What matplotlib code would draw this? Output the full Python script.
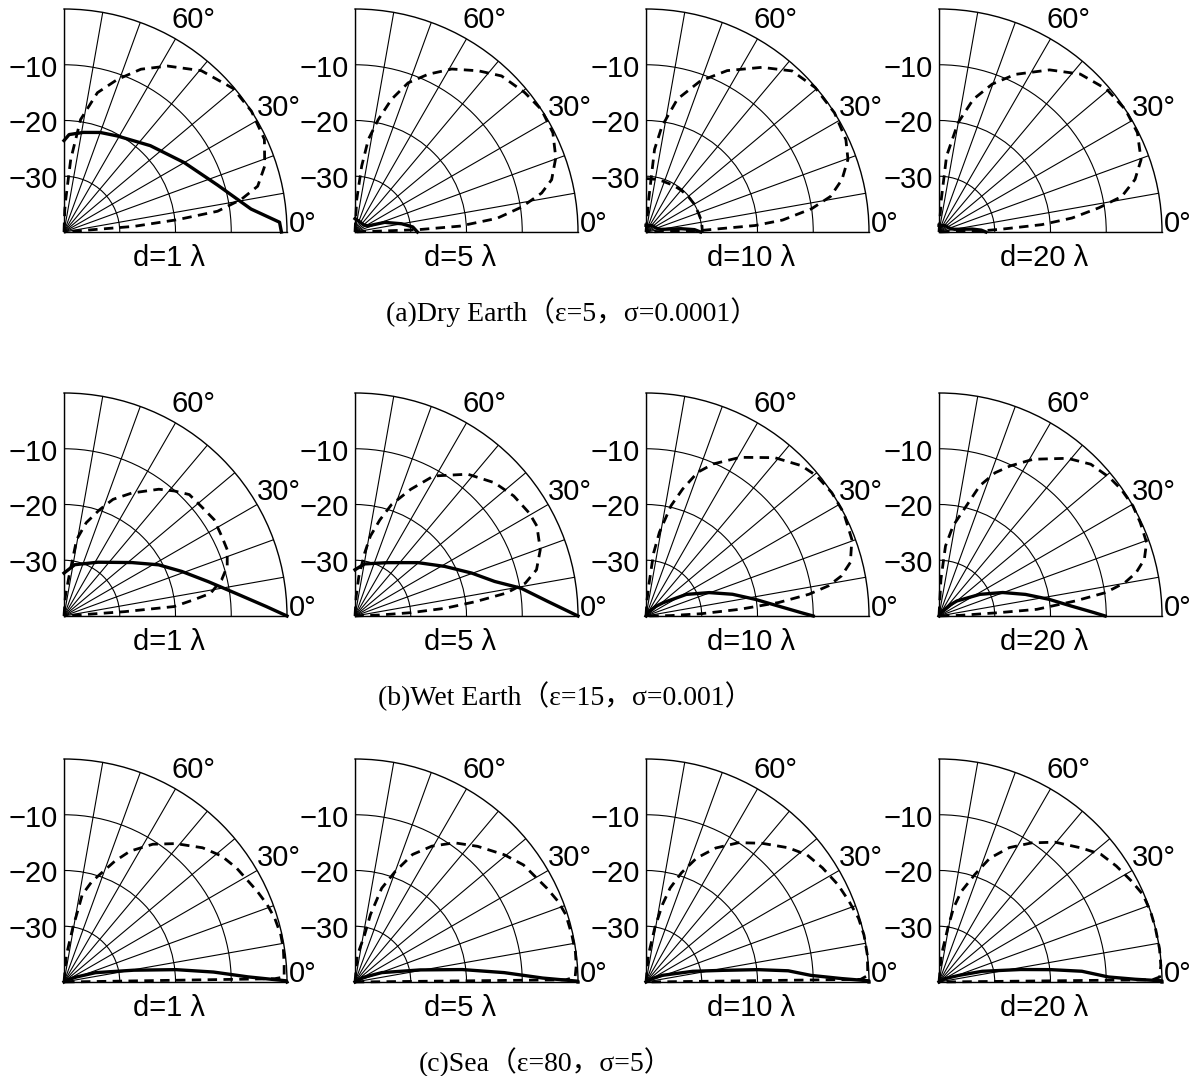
import numpy as np
import matplotlib
matplotlib.use("Agg")
import matplotlib.pyplot as plt
from matplotlib.transforms import offset_copy

# ---- data: angle (deg) / level (dB, -40 .. 0) ----
# (a) Dry Earth
dry1_sol_deg = [90, 87, 79, 70, 61, 45, 30, 17, 7, 2.6, 0]
dry1_sol_db = [-23.6, -22.5, -21.8, -21.0, -20.3, -18.1, -15.1, -11.2, -6.2, -1.3, -1.0]
dry1_dash_deg = [90, 88, 87, 84.7, 81.6, 76.5, 70.7, 64.7, 58, 49.6, 40.3, 32.8, 24.8,
                 18.2, 13.3, 10.4, 7.7, 6.2, 4.6, 4.3, 0]
dry1_dash_db = [-40, -36, -34.2, -26.9, -19.6, -14.3, -11.0, -7.7, -4.9, -2.0, -0.2, 0, -0.4,
                -2.1, -4.3, -7.7, -12.2, -19.5, -27.4, -40, -40]

dry5_sol_deg = [90, 60, 40, 25, 18, 10, 5, 0]
dry5_sol_db = [-37.6, -38, -38, -37.4, -34.4, -31.5, -29.6, -28.8]
dry5_dash_deg = [90, 87, 84.2, 81.8, 78.3, 74.6, 70.4, 65.1, 59.3, 52.6, 46.8, 39.4, 33.3,
                 26.6, 20.3, 14.9, 11.8, 8.5, 5.5, 3.2, 2.1, 1.5, 0]
dry5_dash_db = [-40, -34.2, -28.1, -23.2, -19.4, -15.3, -11.6, -8.8, -6.0, -3.6, -1.6, -0.6, 0,
                -0.3, -1.6, -3.5, -5.8, -9.8, -14.4, -21.2, -28.7, -40, -40]

dry10_sol_deg = [90, 45, 20, 10, 5.4, 2.8, 0]
dry10_sol_db = [-38.8, -38.4, -38.0, -37.3, -33.7, -31.3, -30.2]
dry10_dash_deg = [90, 85.3, 84.1, 81.4, 76.7, 70.2, 63.3, 54.9, 47.8, 40.5, 32.3, 24.8, 19.8,
                  15.0, 10.9, 8.0, 5.0, 3.4, 2.4, 1.7, 1.2, 0]
dry10_dash_db = [-40, -34.2, -25.1, -20.8, -15.5, -11.2, -7.6, -3.9, -1.0, -0.1, 0, -0.5, -1.5,
                 -3.6, -6.3, -10.0, -15.4, -20.4, -27.5, -29.8, -40, -40]
# short dashed arc lying on the -30 dB ring in d=10
dry10_ring_deg = [90, 80, 72, 60, 50, 40, 30, 20, 13, 6, 0]
dry10_ring_db = [-30.4, -30.4, -30.4, -30.3, -30.2, -30.1, -30.0, -30.0, -29.9, -29.9, -29.9]

dry20_sol_deg = [90, 45, 20, 10, 5, 2.5, 0]
dry20_sol_db = [-38.8, -38.4, -38.0, -37.2, -34.0, -32.4, -31.6]
dry20_dash_deg = [90, 86, 84.3, 80.1, 75.5, 70.2, 64.2, 55.7, 48.2, 40.4, 33.3, 26.6, 19.7,
                  15.0, 11.0, 8.6, 6.0, 4.1, 2.7, 1.7, 1.2, 0]
dry20_dash_db = [-40, -34.2, -26.3, -20.1, -15.4, -11.8, -8.6, -4.8, -2.0, -0.5, 0, -0.2, -1.5,
                 -3.6, -6.6, -11.0, -16.0, -21.5, -28.4, -31.8, -40, -40]

# (b) Wet Earth
wet1_sol_deg = [90, 78.2, 57.8, 38.2, 28.4, 20.7, 13.4, 7.6, 2.7, 0]
wet1_sol_db = [-32.3, -30.6, -28.6, -24.5, -20.7, -17.4, -13.4, -9.0, -3.7, 0]
wet1_dash_deg = [90, 86, 82.8, 80.6, 76.6, 71.5, 67.2, 61.1, 53.2, 48.6, 44.1, 38.7, 32.7,
                 26.8, 22.1, 16.9, 12.9, 8.8, 7.1, 4.9, 4.1, 3.8, 0]
wet1_dash_db = [-40, -36.4, -32.9, -26.1, -22.8, -19.9, -17.3, -14.8, -11.6, -10.1, -8.7, -8.5, -8.0,
                -8.3, -8.4, -9.4, -11.0, -13.4, -16.6, -20.2, -29.1, -40, -40]

wet5_sol_deg = [90, 79.5, 58.7, 40.3, 28.9, 20.2, 13.9, 9.5, 4.3, 0]
wet5_sol_db = [-31.7, -30.5, -28.8, -25.2, -21.6, -17.7, -14.2, -9.8, -5.3, 0]
wet5_dash_deg = [90, 86.5, 84.5, 81.3, 79.1, 75.5, 71.9, 66.3, 60.7, 51.5, 43.7, 37.1, 30.6,
                 26.3, 19.7, 14.3, 10.9, 8.6, 6.8, 4.9, 3.4, 2.3, 1.8, 0]
wet5_dash_db = [-40, -36.4, -32.9, -28.6, -25.4, -22.2, -19.0, -15.2, -11.2, -7.5, -5.4, -4.3, -3.7,
                -3.6, -4.7, -6.4, -8.9, -12.6, -18.2, -23.8, -30.0, -35.6, -40, -40]

wet10_sol_deg = [90, 60, 45, 37.7, 28.2, 20.3, 14.1, 8.7, 4.3, 1.2, 0]
wet10_sol_db = [-40, -39.2, -37.6, -36.1, -31.8, -27.9, -24.0, -20.2, -16.2, -12.1, -10.0]
wet10_dash_deg = [90, 86.5, 84.9, 83.1, 80.9, 77.2, 73.9, 70.2, 66.2, 59.3, 50.9, 44.0, 39.4,
                  33.6, 27.6, 20.4, 14.7, 11.6, 9.4, 7.6, 5.8, 4.1, 2.4, 1.0, 0]
wet10_dash_db = [-40, -37.2, -34.6, -28.6, -24.8, -19.7, -16.3, -12.6, -10.2, -6.9, -3.4, -1.2, -0.4,
                 0, 0, -0.6, -2.1, -4.2, -6.8, -10.5, -16.1, -23.1, -30.0, -35.5, -40]

wet20_sol_deg = [90, 60, 45, 40, 27.9, 20.2, 14.0, 8.7, 4.3, 1.2, 0]
wet20_sol_db = [-40, -39.2, -37.2, -35.8, -31.7, -27.8, -24.0, -20.1, -16.2, -12.1, -10.2]
wet20_dash_deg = [90, 87, 84.7, 81.1, 76.0, 72.6, 68.6, 64.6, 59.0, 50.8, 45.0, 39.1, 34.8,
                  29.6, 24.9, 19.5, 15.4, 12.4, 10.2, 8.0, 6.3, 3.9, 3.2, 1.8, 0]
wet20_dash_db = [-40, -33.4, -27.4, -23.6, -19.6, -15.5, -12.4, -10.2, -7.2, -3.5, -1.5, -0.6, -0.2,
                 0, -0.2, -0.5, -1.8, -3.8, -6.1, -9.8, -15.4, -22.4, -29.2, -36.1, -40]

# (c) Sea
sea1_sol_deg = [90, 30, 22, 16.5, 9.6, 6.3, 3.8, 1.6, 0.3, 0]
sea1_sol_db = [-40, -39.2, -37.6, -34.1, -27.3, -19.8, -13.1, -7.0, -0.1, 0]
sea1_dash_deg = [90, 85, 80.8, 78.9, 78.2, 74.5, 67.2, 63.2, 57.2, 51.1, 44.1, 38.6, 33.4,
                 25.1, 20.8, 16.8, 12.3, 8.7, 4.3, 1.3, 0.9, 0.5, 0]
sea1_dash_db = [-40, -35.2, -30.2, -26.5, -24.0, -21.3, -16.5, -13.7, -10.6, -8.1, -5.4, -3.8, -2.9,
                -1.7, -1.0, -0.5, -0.2, -0.2, -0.4, -0.5, -2.2, -40, -40]

sea5_sol_deg = [90, 30, 19.3, 10.5, 6.6, 3.6, 1.2, 0.2, 0]
sea5_sol_db = [-40, -38.4, -34.9, -28.1, -20.6, -13.2, -6.3, 0, 0]
sea5_dash_deg = [90, 85, 78.5, 77.1, 74.1, 70.0, 65.7, 60.5, 54.4, 47.9, 40.4, 34.8, 26.1,
                 21.6, 17.7, 12.3, 7.8, 4.3, 1.3, 0.6, 0.3, 0]
sea5_dash_db = [-40, -35.2, -31.4, -27.6, -22.5, -18.9, -14.9, -12.0, -9.3, -7.2, -4.8, -3.2, -1.7,
                -0.8, -0.3, -0.2, -0.1, -0.2, -0.5, -2.2, -40, -40]

sea10_sol_deg = [90, 30, 22, 12.9, 8.6, 6.3, 4.5, 2.3, 1.0, 0.3, 0]
sea10_sol_db = [-40, -38.8, -36.8, -31.4, -26.0, -19.8, -14.4, -10.4, -4.9, 0, 0]
sea10_dash_deg = [90, 85, 80.8, 78.0, 75.6, 72.0, 67.8, 62.5, 56.4, 50.2, 43.3, 38.3, 32.9,
                  26.9, 21.6, 16.7, 12.1, 6.9, 1.7, 0.7, 0.3, 0]
sea10_dash_db = [-40, -35.2, -30.2, -25.8, -22.6, -19.4, -16.0, -12.9, -10.0, -7.6, -4.9, -3.2, -2.3,
                 -1.4, -0.8, -0.2, 0, 0, -0.2, -1.5, -40, -40]

sea20_sol_deg = [90, 30, 18.3, 13.9, 8.7, 6.3, 4.3, 1.7, 0.8, 0.3, 0]
sea20_sol_db = [-40, -38.8, -36.2, -32.0, -25.2, -19.8, -14.3, -9.6, -4.8, 0, 0]
sea20_dash_deg = [90, 85, 80.7, 78.9, 76.2, 71.6, 67.7, 62.4, 56.3, 50.3, 43.2, 38.2, 33.2,
                  27.6, 23.2, 18.4, 13.9, 8.6, 4.3, 1.3, 0.6, 0.3, 0]
sea20_dash_db = [-40, -35.2, -30.2, -26.5, -23.3, -19.7, -16.0, -12.8, -10.0, -7.4, -4.9, -3.0, -2.0,
                 -1.0, -0.2, 0, 0, 0, -0.1, -0.4, -1.7, -40, -40]

distances = ["d=1 λ", "d=5 λ", "d=10 λ", "d=20 λ"]
captions = ["(a)Dry Earth（ε=5，σ=0.0001）",
            "(b)Wet Earth（ε=15，σ=0.001）",
            "(c)Sea（ε=80，σ=5）"]
ring_levels = [-30, -20, -10]
ring_labels = ["−30", "−20", "−10"]

rows = [
    [(dry1_sol_deg, dry1_sol_db, dry1_dash_deg, dry1_dash_db),
     (dry5_sol_deg, dry5_sol_db, dry5_dash_deg, dry5_dash_db),
     (dry10_sol_deg, dry10_sol_db, dry10_dash_deg, dry10_dash_db),
     (dry20_sol_deg, dry20_sol_db, dry20_dash_deg, dry20_dash_db)],
    [(wet1_sol_deg, wet1_sol_db, wet1_dash_deg, wet1_dash_db),
     (wet5_sol_deg, wet5_sol_db, wet5_dash_deg, wet5_dash_db),
     (wet10_sol_deg, wet10_sol_db, wet10_dash_deg, wet10_dash_db),
     (wet20_sol_deg, wet20_sol_db, wet20_dash_deg, wet20_dash_db)],
    [(sea1_sol_deg, sea1_sol_db, sea1_dash_deg, sea1_dash_db),
     (sea5_sol_deg, sea5_sol_db, sea5_dash_deg, sea5_dash_db),
     (sea10_sol_deg, sea10_sol_db, sea10_dash_deg, sea10_dash_db),
     (sea20_sol_deg, sea20_sol_db, sea20_dash_deg, sea20_dash_db)],
]

# ---- layout (pixels) ----
W, H = 1198, 1076
R = 223
col_x = [64, 355, 646, 939]
row_y = [232, 616, 982]
caption_x = [572, 565, 545]

sans = ["Liberation Sans", "DejaVu Sans"]
serif = ["Liberation Serif", "Noto Sans CJK JP", "DejaVu Serif"]

fig = plt.figure(figsize=(W / 100, H / 100), dpi=100)

for i, row in enumerate(rows):
    for j, (s_deg, s_db, d_deg, d_db) in enumerate(row):
        x0, y0 = col_x[j], row_y[i]
        ax = fig.add_axes([x0 / W, (H - y0) / H, R / W, R / H], projection="polar")
        ax.set_thetamin(0)
        ax.set_thetamax(90)
        ax.set_rlim(-40, 0)
        ax.set_xticks(np.radians(np.arange(0, 91, 10)))
        ax.set_xticklabels([])
        ax.set_yticks(ring_levels)
        ax.set_yticklabels([])
        ax.tick_params(length=0)
        ax.grid(True, color="black", linewidth=0.8)
        for sp in ax.spines.values():
            sp.set_color("black")
            sp.set_linewidth(1.0)

        ax.plot(np.radians(d_deg), d_db, color="black", lw=2.0, ls=(0, (3.4, 2.3)),
                clip_on=False, zorder=3)
        if i == 0 and j == 2:
            ax.plot(np.radians(dry10_ring_deg), dry10_ring_db, color="black", lw=2.0,
                    ls=(0, (3.4, 2.3)), clip_on=False, zorder=3)
        ax.plot(np.radians(s_deg), s_db, color="black", lw=2.4, clip_on=False, zorder=4)

        # angle labels
        ax.text(np.radians(58.5), 4.6, "60°", ha="center", va="center",
                fontsize=21, family=sans)
        ax.text(np.radians(30), 4.5, "30°", ha="center", va="center",
                fontsize=21, family=sans)
        ax.text(0, 0.4, "0°", ha="left", va="baseline", fontsize=21, family=sans)

        # level labels
        tr = offset_copy(ax.transData, fig=fig, x=-6, y=-4, units="dots")
        for lev, lab in zip(ring_levels, ring_labels):
            ax.text(np.pi / 2, lev, lab, transform=tr, ha="right", va="center",
                    fontsize=21, family=sans)

        ax.text(0.47, -26 / R, distances[j], transform=ax.transAxes, ha="center",
                va="center", fontsize=21, family=sans)

    fig.text(caption_x[i] / W, 1 - (row_y[i] + 80) / H, captions[i], ha="center",
             va="center", fontsize=20, family=serif)

fig.savefig("out.png", dpi=100)
